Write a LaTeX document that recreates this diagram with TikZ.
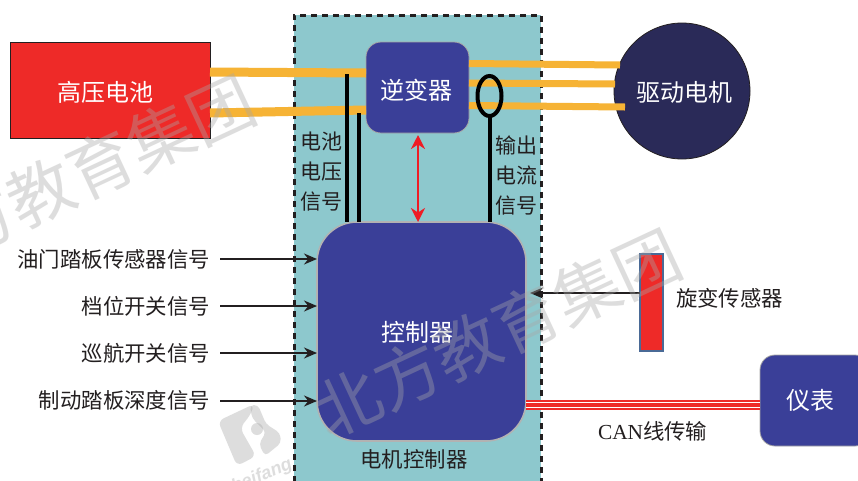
\documentclass[tikz,border=0pt]{standalone}
\usepackage{fontspec}
\setmainfont{Liberation Serif}
\newfontfamily\cjk{Noto Sans CJK SC}
\newfontfamily\logofont{Liberation Sans}
\usetikzlibrary{arrows.meta,calc,shapes.geometric}
\definecolor{bluebox}{HTML}{3A3F98}
\definecolor{tealbox}{HTML}{8DC8CD}
\definecolor{redbox}{HTML}{EE2A28}
\definecolor{cable}{HTML}{F6B335}
\definecolor{motorc}{HTML}{2A2A58}
\definecolor{ink}{HTML}{231F20}
\definecolor{wm}{HTML}{A8A8A8}
\definecolor{sensoredge}{HTML}{4A6A96}
\definecolor{arrowred}{HTML}{EE1C25}
\tikzset{
  every node/.style={outer sep=0pt},
  whitelabel/.style={text=white,font=\cjk\fontsize{24}{24}\selectfont,inner sep=0pt},
  blacklabel/.style={text=ink,font=\cjk\fontsize{21.4}{21.4}\selectfont,inner sep=0pt},
  sidelabel/.style={text=ink,font=\cjk\fontsize{21}{30}\selectfont,inner sep=0pt,align=center},
  blueblock/.style={fill=bluebox,draw=gray!70,line width=0.8pt,rounded corners=15pt,inner sep=0pt},
  hv/.style={draw=cable,line width=9pt},
  ac/.style={draw=cable,line width=7pt},
  sig/.style={draw=ink,line width=1.8pt,-{Stealth[length=13pt,width=11pt]}},
  wire/.style={draw=black,line width=3.5pt},
  wmtext/.style={text=wm,opacity=.38,font=\cjk\fontsize{66}{66}\selectfont,rotate=25,inner sep=0pt},
}
\begin{document}
\begin{tikzpicture}[x=1pt,y=-1pt]
\useasboundingbox (0,0) rectangle (858,480);
\clip (0,0) rectangle (858,480);
\fill[white] (0,0) rectangle (858,480);
% controller housing
\fill[tealbox] (294,15) rectangle (541,482);
\draw[ink,line width=3pt,dash pattern=on 6pt off 5pt] (294,482) -- (294,15) -- (541,15) -- (541,482);
% boxes
\node[fill=redbox,draw=ink,line width=1pt,minimum width=200pt,minimum height=96pt,inner sep=0pt,anchor=north west] (batt) at (10,42) {};
\node[blueblock,minimum width=103pt,minimum height=91pt,anchor=north west] (inv) at (366,42) {};
\node[circle,fill=motorc,draw=ink,line width=.8pt,minimum size=136pt,inner sep=0pt] (motor) at (682,91) {};
\node[blueblock,rounded corners=40pt,draw=gray!60,line width=1.6pt,minimum width=209pt,minimum height=219pt,anchor=north west] (ctrl) at (317,222) {};
\node[fill=redbox,draw=sensoredge,line width=2pt,minimum width=23pt,minimum height=97pt,inner sep=0pt,anchor=north west] (sensor) at (640,254) {};
\node[blueblock,minimum width=110pt,minimum height=91pt,anchor=north west] (meter) at (760,355) {};
% HV cables
\coordinate (b1) at (210,72); \coordinate (i1) at (366,73);
\coordinate (b2) at (210,113); \coordinate (i2) at (366,110);
\draw[hv] (b1) -- (i1);
\draw[hv] (b2) -- (i2);
\coordinate (i3) at (469,63.5); \coordinate (m1) at (620,65);
\coordinate (i4) at (469,83); \coordinate (m2) at (615,84);
\coordinate (i5) at (469,105.5); \coordinate (m3) at (625,107);
\draw[ac] (i3) -- (m1);
\draw[ac] (i4) -- (m2);
\draw[ac] (i5) -- (m3);
% signal wires
\coordinate (v1) at (347,74); \coordinate (v2) at (359,113);
\draw[wire] (v1) -- (v1 |- ctrl.north);
\draw[wire] (v2) -- (v2 |- ctrl.north);
\node[ellipse,draw=black,line width=4pt,minimum width=24pt,minimum height=40pt,inner sep=0pt] (ring) at (489.5,96) {};
\draw[black,line width=4pt] (ring.south) -- (ring.south |- ctrl.north);
% bidirectional
\coordinate (ra) at (418,135);
\draw[draw=arrowred,line width=2.8pt,{Stealth[length=14pt,width=14pt]}-{Stealth[length=14pt,width=14pt]}] (ra) -- (ra |- ctrl.north);
% inputs
\node[blacklabel,anchor=east] (l1) at (210,259) {油门踏板传感器信号};
\node[blacklabel,anchor=east] (l2) at (210,306) {档位开关信号};
\node[blacklabel,anchor=east] (l3) at (210,353) {巡航开关信号};
\node[blacklabel,anchor=east] (l4) at (210,400) {制动踏板深度信号};
\coordinate (s1) at (220,259); \coordinate (s2) at (220,306); \coordinate (s3) at (220,353); \coordinate (s4) at (220,401);
\draw[sig] (s1) -- (s1 -| ctrl.west);
\draw[sig] (s2) -- (s2 -| ctrl.west);
\draw[sig] (s3) -- (s3 -| ctrl.west);
\draw[sig] (s4) -- (s4 -| ctrl.west);
\coordinate (s5) at (640,293); \coordinate (s6) at (530,293);
\draw[sig] (s5) -- (s6);
% CAN
\coordinate (c1) at (526,405); \coordinate (c2) at (760,405);
\draw[redbox,line width=10pt] (c1) -- (c2);
\draw[white,line width=1.2pt] ($(c1)+(0,-2.6)$) -- ($(c2)+(0,-2.6)$);
\draw[white,line width=1.2pt] ($(c1)+(0,2.6)$) -- ($(c2)+(0,2.6)$);
% labels
\node[whitelabel] at (105,92) {高压电池};
\node[whitelabel] at (416,90) {逆变器};
\node[whitelabel] at (684,92) {驱动电机};
\node[whitelabel] at (417,332) {控制器};
\node[whitelabel] at (810,400) {仪表};
\node[blacklabel] at (414,459) {电机控制器};
\node[blacklabel,anchor=west] at (676,298) {旋变传感器};
\node[blacklabel,anchor=west] at (598,431) {\rmfamily CAN\cjk 线传输};
\node[sidelabel] at (321,172) {电池\\电压\\信号};
\node[sidelabel] at (516,176) {输出\\电流\\信号};
% watermarks
\node[wmtext] at (497,333) {北方教育集团};
\node[wmtext] at (71,179) {北方教育集团};
% logo
\begin{scope}[opacity=.38]
\fill[wm,rounded corners=6pt] (218,421) -- (254,404) -- (251,414) -- (240,428) -- (256,456) -- (237,466) -- cycle;
\fill[wm,rounded corners=4pt] (250,405) -- (258,405) -- (266,424) -- (280,433) -- (281,443) -- (265,456) -- (259,444) -- (266,432) -- (252,418) -- cycle;
\fill[wm] (257,429) circle (6pt);
\end{scope}
\node[text=wm,opacity=.38,font=\logofont\bfseries\itshape\fontsize{18}{18}\selectfont,rotate=23,inner sep=0pt] (logotext) at (262,476) {beifang};
\end{tikzpicture}
\end{document}
